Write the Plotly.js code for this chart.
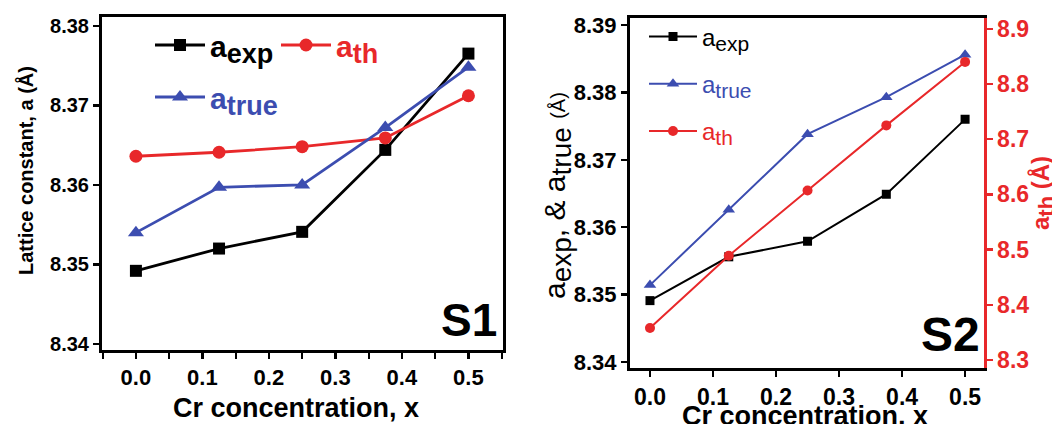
<!DOCTYPE html>
<html>
<head>
<meta charset="utf-8">
<script src="https://cdn.plot.ly/plotly-3.0.1.min.js"></script>
<style>html,body{margin:0;padding:0;background:#fff;}#chart{width:1052px;height:424px;}</style>
</head>
<body>
<div id="chart"></div>
<script>
// ---- data ----
const crConc = [0, 0.125, 0.25, 0.375, 0.5];
// Panel S1
const s1Exp  = [8.3492, 8.3520, 8.3541, 8.3644, 8.3765];
const s1Th   = [8.3636, 8.3641, 8.3648, 8.3659, 8.3712];
const s1True = [8.3540, 8.3597, 8.3600, 8.3672, 8.3748];
// Panel S2
const s2Exp  = [8.3491, 8.3556, 8.3579, 8.3649, 8.3760];
const s2True = [8.3514, 8.3626, 8.3738, 8.3793, 8.3856];
const s2Th   = [8.358, 8.489, 8.607, 8.725, 8.840];   // right axis

const FONT = 'Liberation Sans, Arial, Helvetica, sans-serif';
const RED = '#e8282a', BLUE = '#3c4db0', BLACK = '#000000';

const sub = (s, size) => '<sub><span style="font-size:' + size + 'px">' + s + '</span></sub>';
const colored = (c, t) => '<span style="color:' + c + '">' + t + '</span>';

const lblExp  = 'a' + sub('exp', 27);
const lblTh   = colored(RED, 'a' + sub('th', 27));
const lblTrue = colored(BLUE, 'a' + sub('true', 27));
const lblExp2  = 'a' + sub('exp', 21);
const lblTh2   = colored(RED, 'a' + sub('th', 21));
const lblTrue2 = colored(BLUE, 'a' + sub('true', 21));

const traces = [
  {x: crConc, y: s1Exp, xaxis: 'x', yaxis: 'y', mode: 'lines+markers', name: lblExp, legend: 'legend',
   line: {color: BLACK, width: 2.8}, marker: {symbol: 'square', size: 12, color: BLACK}},
  {x: crConc, y: s1Th, xaxis: 'x', yaxis: 'y', mode: 'lines+markers', name: lblTh, legend: 'legend2',
   line: {color: RED, width: 2.8}, marker: {symbol: 'circle', size: 13, color: RED}},
  {x: crConc, y: s1True, xaxis: 'x', yaxis: 'y', mode: 'lines+markers', name: lblTrue, legend: 'legend3',
   line: {color: BLUE, width: 2.8}, marker: {symbol: 'triangle-up', size: 14, color: BLUE}},

  {x: crConc, y: s2Exp, xaxis: 'x2', yaxis: 'y3', mode: 'lines+markers', name: lblExp2, legend: 'legend4', legendgroup: 'g1',
   line: {color: BLACK, width: 2}, marker: {symbol: 'square', size: 9, color: BLACK}},
  {x: crConc, y: s2True, xaxis: 'x2', yaxis: 'y3', mode: 'lines+markers', name: lblTrue2, legend: 'legend4', legendgroup: 'g2',
   line: {color: BLUE, width: 2}, marker: {symbol: 'triangle-up', size: 11, color: BLUE}},
  {x: crConc, y: s2Th, xaxis: 'x2', yaxis: 'y4', mode: 'lines+markers', name: lblTh2, legend: 'legend4', legendgroup: 'g3',
   line: {color: RED, width: 2}, marker: {symbol: 'circle', size: 10, color: RED}}
];

const W = 1052, H = 424;
const px = v => v / W, py = v => 1 - v / H;

const baseAxis = {
  showline: true, linecolor: BLACK, linewidth: 3, ticks: 'outside', ticklen: 6, tickwidth: 2.5,
  tickcolor: BLACK, showgrid: false, zeroline: false, fixedrange: true
};

const s1Legend = (xPix, yPix) => ({
  orientation: 'h', x: px(xPix), xanchor: 'left', y: py(yPix), yanchor: 'middle',
  bgcolor: 'rgba(0,0,0,0)', borderwidth: 0, itemwidth: 50,
  font: {family: FONT, size: 30, weight: 'bold', color: BLACK}
});

const layout = {
  width: W, height: H,
  margin: {l: 0, r: 0, t: 0, b: 0},
  paper_bgcolor: '#fff', plot_bgcolor: '#fff',
  font: {family: FONT, color: BLACK},
  showlegend: true,
  xaxis: Object.assign({}, baseAxis, {
    domain: [px(102), px(503)], range: [-0.051, 0.552], anchor: 'y', mirror: true,
    tick0: 0, dtick: 0.1, tickformat: '.1f',
    minor: {dtick: 0.05, ticks: 'outside', ticklen: 6, tickwidth: 2, tickcolor: BLACK},
    tickfont: {family: FONT, size: 22, weight: 'bold', color: BLACK}
  }),
  yaxis: Object.assign({}, baseAxis, {
    domain: [py(350), py(17)], range: [8.33925, 8.3811], anchor: 'x', mirror: true,
    tick0: 8.34, dtick: 0.01, tickformat: '.2f',
    tickfont: {family: FONT, size: 20, weight: 'bold', color: BLACK}
  }),
  xaxis2: Object.assign({}, baseAxis, {
    domain: [px(630), px(984)], range: [-0.0317, 0.530], anchor: 'y3', mirror: true,
    tick0: 0, dtick: 0.1, tickformat: '.1f',
    tickfont: {family: FONT, size: 23, weight: 'bold', color: BLACK}
  }),
  yaxis3: Object.assign({}, baseAxis, {
    domain: [py(368), py(18.3)], range: [8.3391, 8.391], anchor: 'x2', mirror: false,
    tick0: 8.34, dtick: 0.01, tickformat: '.2f',
    tickfont: {family: FONT, size: 22, weight: 'bold', color: BLACK}
  }),
  yaxis4: Object.assign({}, baseAxis, {
    overlaying: 'y3', side: 'right', anchor: 'x2', range: [8.2855, 8.919],
    linecolor: RED, tickcolor: RED, linewidth: 2.5,
    tick0: 8.3, dtick: 0.1, tickformat: '.1f',
    tickfont: {family: FONT, size: 23, weight: 'bold', color: RED}
  }),
  legend: s1Legend(150, 45),
  legend2: s1Legend(276, 45),
  legend3: s1Legend(150, 97),
  legend4: {
    orientation: 'v', x: px(644), xanchor: 'left', y: py(84), yanchor: 'middle',
    bgcolor: 'rgba(0,0,0,0)', borderwidth: 0, tracegroupgap: 13, itemwidth: 48,
    font: {family: FONT, size: 24, color: BLACK}
  },
  annotations: [
    {xref: 'paper', yref: 'paper', x: px(25), y: py(171), text: 'Lattice constant, a (Å)', textangle: -90,
     showarrow: false, xanchor: 'center', yanchor: 'middle', font: {family: FONT, size: 20, weight: 'bold', color: BLACK}},
    {xref: 'paper', yref: 'paper', x: px(296), y: py(408), text: 'Cr concentration, x',
     showarrow: false, xanchor: 'center', yanchor: 'middle', font: {family: FONT, size: 27, weight: 'bold', color: BLACK}},
    {xref: 'paper', yref: 'paper', x: px(469), y: py(320), text: 'S1',
     showarrow: false, xanchor: 'center', yanchor: 'middle', font: {family: FONT, size: 46, weight: 'bold', color: BLACK}},
    {xref: 'paper', yref: 'paper', x: px(557), y: py(196),
     text: 'a' + sub('exp', 28) + ', &amp; a' + sub('true', 28) + ' <span style="font-size:20px">(Å)</span>', textangle: -90,
     showarrow: false, xanchor: 'center', yanchor: 'middle', font: {family: FONT, size: 30, color: BLACK}},
    {xref: 'paper', yref: 'paper', x: px(1043), y: py(193), text: 'a' + sub('th', 22) + ' (Å)', textangle: -90,
     showarrow: false, xanchor: 'center', yanchor: 'middle', font: {family: FONT, size: 24, weight: 'bold', color: RED}},
    {xref: 'paper', yref: 'paper', x: px(805), y: py(416), text: 'Cr concentration, x',
     showarrow: false, xanchor: 'center', yanchor: 'middle', font: {family: FONT, size: 27, weight: 'bold', color: BLACK}},
    {xref: 'paper', yref: 'paper', x: px(950), y: py(334), text: 'S2',
     showarrow: false, xanchor: 'center', yanchor: 'middle', font: {family: FONT, size: 48, weight: 'bold', color: BLACK}}
  ]
};

Plotly.newPlot('chart', traces, layout, {staticPlot: true, displayModeBar: false});
</script>
</body>
</html>
